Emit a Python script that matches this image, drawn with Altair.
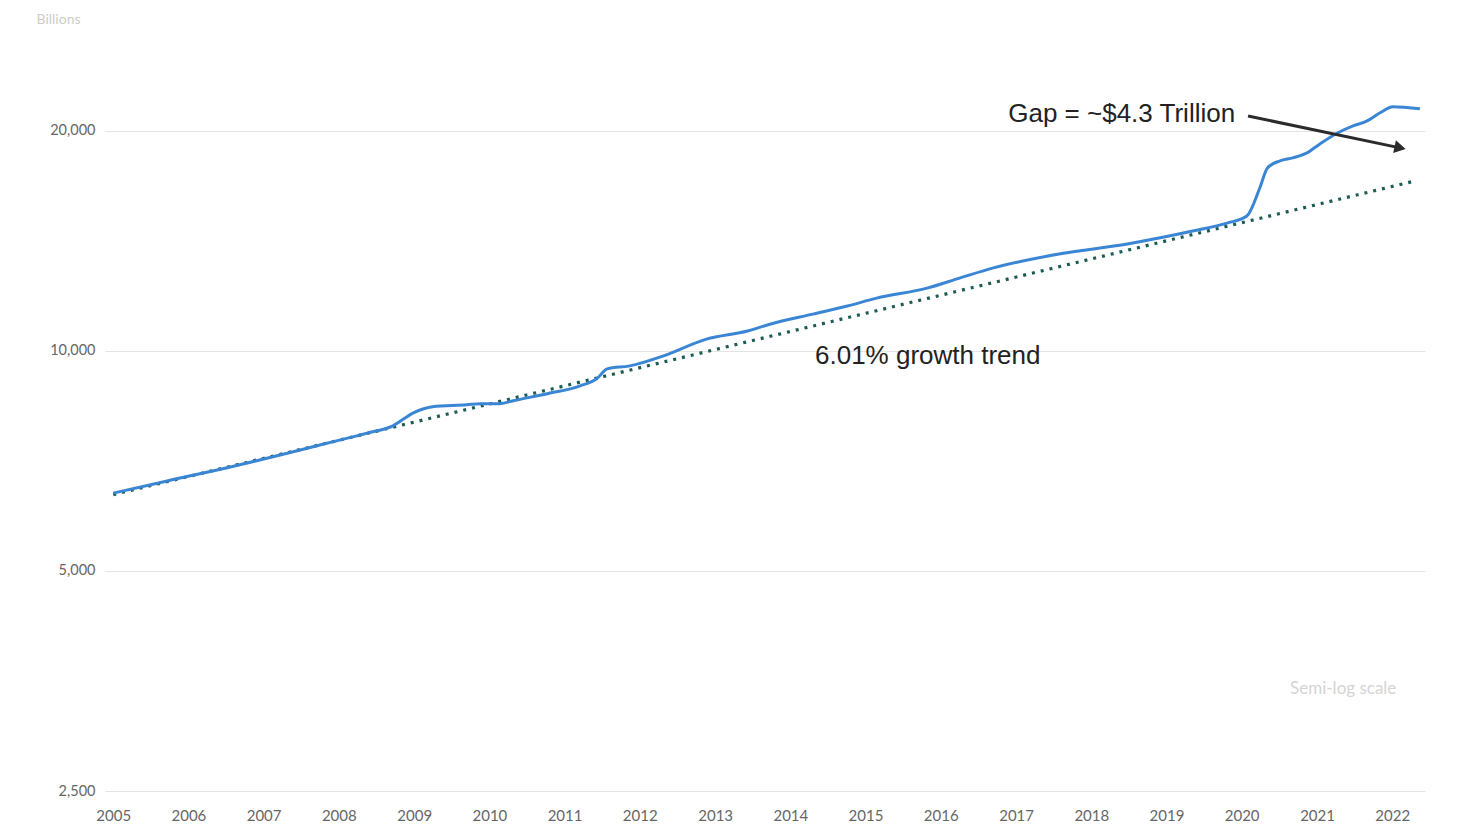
import altair as alt
import pandas as pd

# M2-like money stock, billions
dates = [
    "2005-01-01", "2005-09-20", "2006-08-03", "2007-06-28", "2007-12-01",
    "2008-05-18", "2008-09-20", "2008-12-28", "2009-04-01", "2009-09-13",
    "2009-11-17", "2010-02-21", "2010-04-27", "2010-10-09", "2011-03-18",
    "2011-06-06", "2011-07-27", "2011-11-14", "2012-04-22", "2012-11-20",
    "2013-06-07", "2013-09-24", "2014-04-20", "2014-10-05", "2015-02-24",
    "2015-10-27", "2016-04-05", "2016-09-13", "2017-08-04", "2018-06-25",
    "2019-05-08", "2019-10-22", "2020-01-26", "2020-03-29", "2020-05-05",
    "2020-07-05", "2020-09-05", "2020-11-13", "2021-01-15", "2021-04-10",
    "2021-06-25", "2021-09-01", "2021-11-01", "2022-01-05", "2022-05-15",
]
m2_billions = [
    6390, 6640, 6950, 7320, 7510,
    7720, 7900, 8230, 8390, 8440,
    8470, 8470, 8550, 8740, 8960,
    9160, 9450, 9540, 9840, 10380,
    10650, 10880, 11230, 11520, 11810,
    12190, 12590, 12990, 13580, 14010,
    14590, 14960, 15300, 16710, 17800,
    18200, 18370, 18660, 19200, 19870,
    20320, 20640, 21160, 21580, 21440,
]

trend_dates = ["2005-01-01", "2022-04-20"]
trend_values = [6360, 17080]

arrow_dates = ["2020-02-01", "2022-02-08"]
arrow_values = [20960, 18960]

y_ticks = [2500, 5000, 10000, 20000]
x_years = list(range(2005, 2023))

gap_label = ["Gap = ~$4.3 Trillion"]
gap_date = ["2019-12-10"]
gap_value = [21090]

trend_label = ["6.01% growth trend"]
trend_label_date = ["2015-10-30"]
trend_label_value = [9836]

scale_label = ["Semi-log scale"]
scale_label_date = ["2021-05-08"]
scale_label_value = [3446]

series_df = pd.DataFrame({"date": dates, "value": m2_billions})
trend_df = pd.DataFrame({"date": trend_dates, "value": trend_values})
arrow_df = pd.DataFrame({"date": arrow_dates, "value": arrow_values})
arrow_head_df = arrow_df.iloc[[1]]
gap_df = pd.DataFrame({"date": gap_date, "value": gap_value, "label": gap_label})
tl_df = pd.DataFrame({"date": trend_label_date, "value": trend_label_value, "label": trend_label})
sl_df = pd.DataFrame({"date": scale_label_date, "value": scale_label_value, "label": scale_label})

x_scale = alt.Scale(
    domain=[alt.DateTime(year=2004, month=11, date=22), alt.DateTime(year=2022, month=6, date=9)],
    nice=False,
)
y_scale = alt.Scale(type="log", domain=[2500, 27400], nice=False)

x_axis = alt.Axis(
    values=[alt.DateTime(year=y, month=1, date=1) for y in x_years],
    format="%Y", grid=False, ticks=False, domain=False,
    labelFont="Lato", labelFontSize=15, labelColor="#666666", labelPadding=17,
)
y_axis = alt.Axis(
    values=y_ticks, format=",", grid=True, gridColor="#e4e4e4", gridWidth=1,
    ticks=False, domain=False,
    labelFont="Lato", labelFontSize=14.5, labelColor="#666666", labelPadding=10,
    minExtent=90, maxExtent=90,
    titleAngle=0, titleX=-47, titleY=-12,
    titleAlign="center", titleBaseline="middle",
    titleFont="Lato", titleFontSize=14, titleFontWeight="normal", titleColor="#cccccc",
)


def X():
    return alt.X("date:T", scale=x_scale, axis=x_axis, title=None)


def Y():
    return alt.Y("value:Q", scale=y_scale, axis=y_axis, title="Billions")


series = alt.Chart(series_df).mark_line(
    color="#3a86d4", strokeWidth=3, interpolate="monotone"
).encode(x=X(), y=Y())

trend = alt.Chart(trend_df).mark_line(
    color="#1d5c55", strokeWidth=3.2, strokeDash=[3, 6]
).encode(x=X(), y=Y())

arrow = alt.Chart(arrow_df).mark_line(
    color="#2b2b2b", strokeWidth=3
).encode(x=X(), y=Y())

arrow_head = alt.Chart(arrow_head_df).mark_point(
    shape="triangle-right", size=170, filled=True, color="#2b2b2b", opacity=1, angle=12
).encode(x=X(), y=Y())

gap_text = alt.Chart(gap_df).mark_text(
    align="right", baseline="middle", font="Liberation Sans", fontSize=26, color="#222222", dx=-2
).encode(x=X(), y=Y(), text="label:N")

trend_text = alt.Chart(tl_df).mark_text(
    align="center", baseline="middle", font="Liberation Sans", fontSize=26, color="#222222"
).encode(x=X(), y=Y(), text="label:N")

scale_text = alt.Chart(sl_df).mark_text(
    align="center", baseline="middle", font="Lato", fontSize=17, color="#d4d4d4"
).encode(x=X(), y=Y(), text="label:N")

chart = alt.layer(
    trend, series, arrow, arrow_head, gap_text, trend_text, scale_text
).properties(
    width=1320, height=760,
    padding={"left": 7, "top": 4, "right": 5, "bottom": 5},
    background="white",
).configure_view(stroke=None)

chart.save("out.html", embed_options={"renderer": "svg", "actions": False})
